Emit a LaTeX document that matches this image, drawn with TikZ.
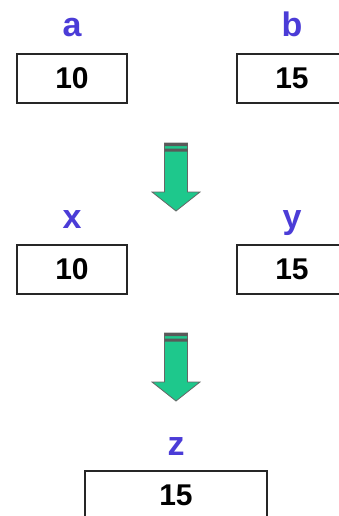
\documentclass[tikz,border=0pt]{standalone}
\usepackage{fontspec}
\setmainfont{Liberation Sans}
\definecolor{varblue}{RGB}{75,60,215}
\definecolor{arrowgreen}{RGB}{30,200,140}
\begin{document}
\begin{tikzpicture}[
  x=1pt, y=-1pt,
  box/.style={draw=black!85,line width=1.8pt,minimum width=110pt,
    minimum height=49pt,inner sep=0pt,font=\bfseries\fontsize{30}{30}\selectfont},
  lbl/.style={anchor=base,text=varblue,font=\bfseries\fontsize{34}{34}\selectfont}
]
  \clip (0,0) rectangle (339,516);

  \node[lbl] (la) at (72,37)  {a};
  \node[box] (a)  at (72,78.5) {10};
  \node[lbl] (lb) at (292,37) {b};
  \node[box] (b)  at (292,78.5) {15};

  \node[lbl] (lx) at (72,228)  {x};
  \node[box] (x)  at (72,269.5) {10};
  \node[lbl] (ly) at (292,228) {y};
  \node[box] (y)  at (292,269.5) {15};

  \node[lbl] (lz) at (176,455) {z};
  \node[box,minimum width=182pt] (z) at (176,495.5) {15};

  % block arrows
  \foreach \t in {143,333}{
    \draw[draw=black!60,fill=arrowgreen,line width=0.8pt]
      (164.5,\t) -- (187.5,\t) -- (187.5,\t+49) -- (200,\t+49)
      -- (176,\t+68) -- (152,\t+49) -- (164.5,\t+49) -- cycle;
    \fill[black!65] (164.5,\t) rectangle (187.5,\t+3)
      (164.5,\t+5.5) rectangle (187.5,\t+8.5);
  }
\end{tikzpicture}
\end{document}
